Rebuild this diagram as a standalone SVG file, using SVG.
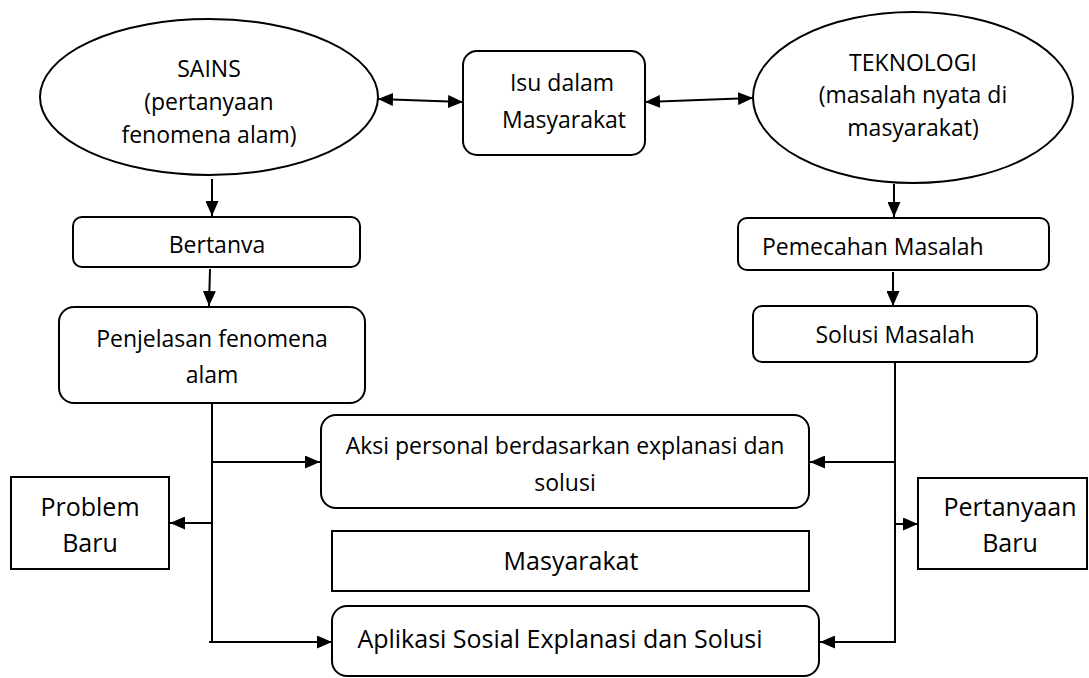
<svg xmlns="http://www.w3.org/2000/svg" width="1089" height="678" viewBox="0 0 1089 678">
<style>
.s{fill:#fff;stroke:#000;stroke-width:2}
.t{font-family:"Open Sans","Noto Sans",sans-serif;font-size:23px;fill:#000;text-anchor:middle}
.b{font-size:25px}
.c{fill:none;stroke:#000;stroke-width:2}
</style>
<defs>
<marker id="ah" viewBox="0 0 15 13" refX="15" refY="6.5" markerWidth="15" markerHeight="13" markerUnits="userSpaceOnUse" orient="auto-start-reverse">
<path d="M0,0 L15,6.5 L0,13 z" fill="#000"/>
</marker>
</defs>
<rect width="1089" height="678" fill="#fff"/>
<g id="sains">
<ellipse class="s" cx="209" cy="97" rx="169" ry="78"/>
<text class="t" x="209" y="77">SAINS</text>
<text class="t" x="209" y="110">(pertanyaan</text>
<text class="t" x="209" y="143">fenomena alam)</text>
</g>
<g id="isu">
<rect class="s" x="463" y="51" width="182" height="104" rx="14"/>
<text class="t" x="562" y="91">Isu dalam</text>
<text class="t" x="564" y="128">Masyarakat</text>
</g>
<g id="teknologi">
<ellipse class="s" cx="913" cy="97.5" rx="160" ry="85.5"/>
<text class="t" x="913" y="71">TEKNOLOGI</text>
<text class="t" x="913" y="103">(masalah nyata di</text>
<text class="t" x="913" y="136">masyarakat)</text>
</g>
<g id="bertanya">
<rect class="s" x="73" y="217" width="287" height="50" rx="9"/>
<text class="t" x="217" y="253">Bertanva</text>
</g>
<g id="penjelasan">
<rect class="s" x="59" y="307" width="306" height="96" rx="15"/>
<text class="t" x="212" y="347">Penjelasan fenomena</text>
<text class="t" x="212" y="383">alam</text>
</g>
<g id="pemecahan">
<rect class="s" x="738" y="218" width="311" height="52" rx="9"/>
<text class="t" x="762" y="255" style="text-anchor:start">Pemecahan Masalah</text>
</g>
<g id="solusi">
<rect class="s" x="753" y="306" width="284" height="56" rx="9"/>
<text class="t" x="895" y="343">Solusi Masalah</text>
</g>
<g id="aksi">
<rect class="s" x="321" y="415" width="488" height="93" rx="15"/>
<text class="t" x="565" y="454">Aksi personal berdasarkan explanasi dan</text>
<text class="t" x="565" y="491">solusi</text>
</g>
<g id="problem">
<rect class="s" x="11" y="477" width="158" height="92"/>
<text class="t b" x="90" y="516">Problem</text>
<text class="t b" x="90" y="552">Baru</text>
</g>
<g id="masyarakat">
<rect class="s" x="332" y="531" width="477" height="60"/>
<text class="t b" x="571" y="570">Masyarakat</text>
</g>
<g id="pertanyaan">
<rect class="s" x="918" y="478" width="169" height="91"/>
<text class="t b" x="1010" y="516">Pertanyaan</text>
<text class="t b" x="1010" y="552">Baru</text>
</g>
<g id="aplikasi">
<rect class="s" x="332" y="606" width="487" height="70" rx="15"/>
<text class="t b" x="560" y="648">Aplikasi Sosial Explanasi dan Solusi</text>
</g>
<g id="connectors">
<line class="c" x1="378" y1="99" x2="463" y2="102" marker-start="url(#ah)" marker-end="url(#ah)"/>
<line class="c" x1="645" y1="102" x2="753" y2="98" marker-start="url(#ah)" marker-end="url(#ah)"/>
<line class="c" x1="212" y1="179" x2="212" y2="216" marker-end="url(#ah)"/>
<line class="c" x1="210" y1="269" x2="209" y2="306" marker-end="url(#ah)"/>
<line class="c" x1="894" y1="184" x2="894" y2="217" marker-end="url(#ah)"/>
<line class="c" x1="893" y1="272" x2="893" y2="306" marker-end="url(#ah)"/>
<line class="c" x1="212" y1="403" x2="212" y2="643"/>
<line class="c" x1="212" y1="462" x2="320" y2="462" marker-end="url(#ah)"/>
<line class="c" x1="212" y1="523" x2="170" y2="523" marker-end="url(#ah)"/>
<line class="c" x1="209" y1="642" x2="332" y2="642" marker-end="url(#ah)"/>
<line class="c" x1="895" y1="362" x2="895" y2="643"/>
<line class="c" x1="895" y1="462" x2="810" y2="462" marker-end="url(#ah)"/>
<line class="c" x1="895" y1="524" x2="918" y2="524" marker-end="url(#ah)"/>
<line class="c" x1="896" y1="642" x2="820" y2="642" marker-end="url(#ah)"/>
</g>
</svg>
